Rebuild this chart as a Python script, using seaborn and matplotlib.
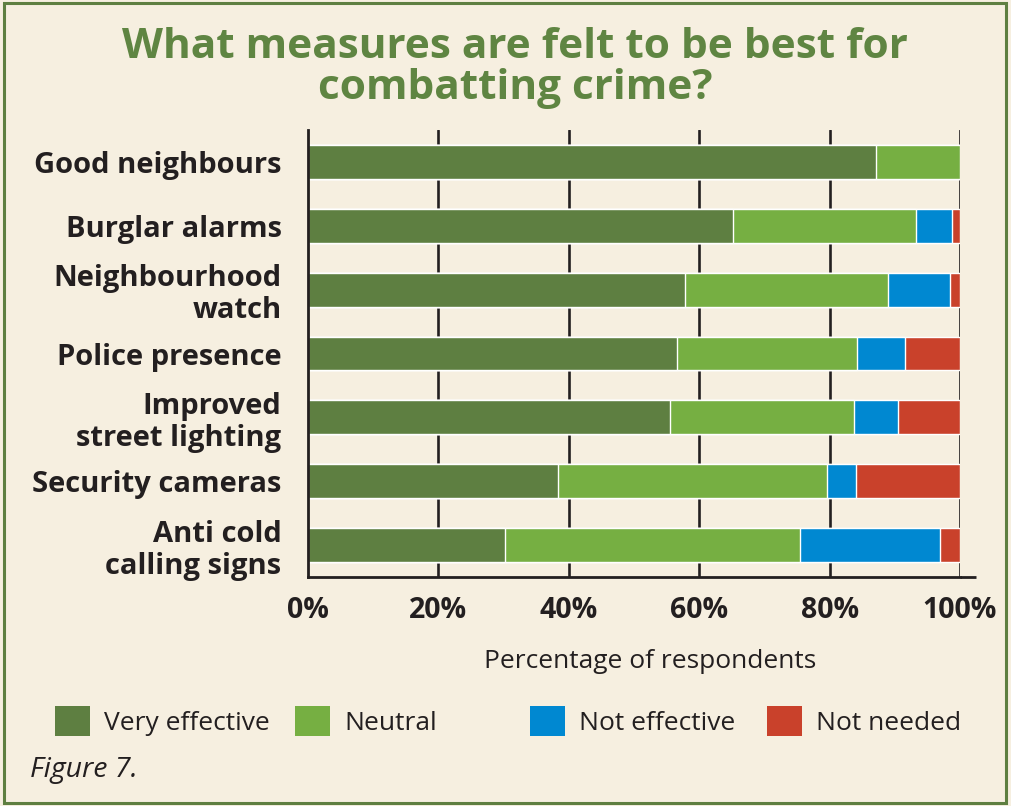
import numpy as np
import pandas as pd
import matplotlib
matplotlib.use("Agg")
import matplotlib.pyplot as plt
import seaborn as sns
from matplotlib.patches import Patch, Rectangle

# --- data (% of respondents) ---
measures = ['Good neighbours', 'Burglar alarms', 'Neighbourhood\nwatch',
            'Police presence', 'Improved\nstreet lighting', 'Security cameras',
            'Anti cold\ncalling signs']
very_effective = [87.1, 65.2, 57.8, 56.6, 55.5, 38.4, 30.2]
neutral = [12.9, 28.0, 31.2, 27.6, 28.3, 41.2, 45.3]
not_effective = [0.0, 5.6, 9.4, 7.3, 6.7, 4.4, 21.5]
not_needed = [0.0, 1.2, 1.6, 8.5, 9.5, 16.0, 3.0]

series_names = ['Very effective', 'Neutral', 'Not effective', 'Not needed']
colours = ['#5e7f41', '#76af42', '#0088d1', '#c9412b']
xticks = [0, 20, 40, 60, 80, 100]

BG = '#f6efe0'
INK = '#231f20'
TITLE_GREEN = '#5f8542'

sns.set_theme(style="white")
plt.rcParams['font.family'] = ['Open Sans', 'DejaVu Sans']

df = pd.DataFrame({'measure': measures,
                   'Very effective': very_effective,
                   'Neutral': neutral,
                   'Not effective': not_effective,
                   'Not needed': not_needed})
cum = df[series_names].cumsum(axis=1)

fig = plt.figure(figsize=(10.11, 8.06), dpi=100, facecolor=BG)
ax = fig.add_axes([308 / 1011, 1 - 577 / 806, 652 / 1011, 447 / 806])
ax.set_facecolor(BG)

# stacked bars: draw cumulative totals from the back to the front
for name, col in reversed(list(zip(series_names, colours))):
    sns.barplot(x=cum[name], y=df['measure'], color=col, orient='h',
                width=0.53, saturation=1, ax=ax, zorder=3)

ax.set_xlim(0, 100)
ax.set_ylim(6.5, -0.5)
ax.set_xticks(xticks)
ax.set_xticklabels([f'{t}%' for t in xticks], fontsize=20.5, fontweight='bold', color=INK)
ax.set_yticks(range(len(measures)))
ax.set_yticklabels(measures, fontsize=21, fontweight='bold', color=INK, linespacing=1.15)
ax.set_yticks(np.arange(0.5, 7.0, 1.0), minor=True)
ax.tick_params(axis='y', which='major', length=0, pad=19)
ax.tick_params(axis='y', which='minor', length=13, width=2.2, color=INK, direction='out')
ax.tick_params(axis='x', which='major', length=11, width=2.0, color=INK, direction='out', pad=3)
ax.set_xlabel('')
ax.set_ylabel('')

for s in ['top', 'right']:
    ax.spines[s].set_visible(False)
for s in ['left', 'bottom']:
    ax.spines[s].set_color(INK)
    ax.spines[s].set_linewidth(2.0)
    ax.spines[s].set_zorder(4)

for t in xticks[1:]:
    ax.axvline(t, color=INK, lw=1.9, zorder=1)
# bottom axis runs a little past 100%
ax.plot([1.0, 1.024], [0, 0], transform=ax.transAxes, color=INK, lw=2.0,
        clip_on=False, solid_capstyle='butt')

# title and texts
fig.text(515 / 1011, 1 - 68 / 806, 'What measures are felt to be best for\ncombatting crime?',
         ha='center', va='center', fontsize=30.5, fontweight='bold', color=TITLE_GREEN,
         linespacing=0.98)
fig.text(650 / 1011, 1 - 662 / 806, 'Percentage of respondents', ha='center', va='center',
         fontsize=19, color=INK)
fig.text(30 / 1011, 1 - 770 / 806, 'Figure 7.', ha='left', va='center', fontsize=20.5,
         style='italic', color=INK)

# legend: four evenly spaced entries
legend_x = [55, 295, 530, 767]
for name, col, lx in zip(series_names, colours, legend_x):
    leg = fig.legend(handles=[Patch(facecolor=col, edgecolor='none', label=name)],
                     loc='center left', bbox_to_anchor=(lx / 1011, 1 - 721 / 806),
                     frameon=False, fontsize=19, borderpad=0, borderaxespad=0,
                     handlelength=1.33, handleheight=1.4, handletextpad=0.53)
    for txt in leg.get_texts():
        txt.set_color(INK)

# green frame
fig.patches.append(Rectangle((4 / 1011, 3 / 806), 1002 / 1011, 800 / 806, fill=False,
                             edgecolor='#5e7f41', lw=2.2, transform=fig.transFigure))

fig.savefig('out.png', dpi=100, facecolor=BG)
